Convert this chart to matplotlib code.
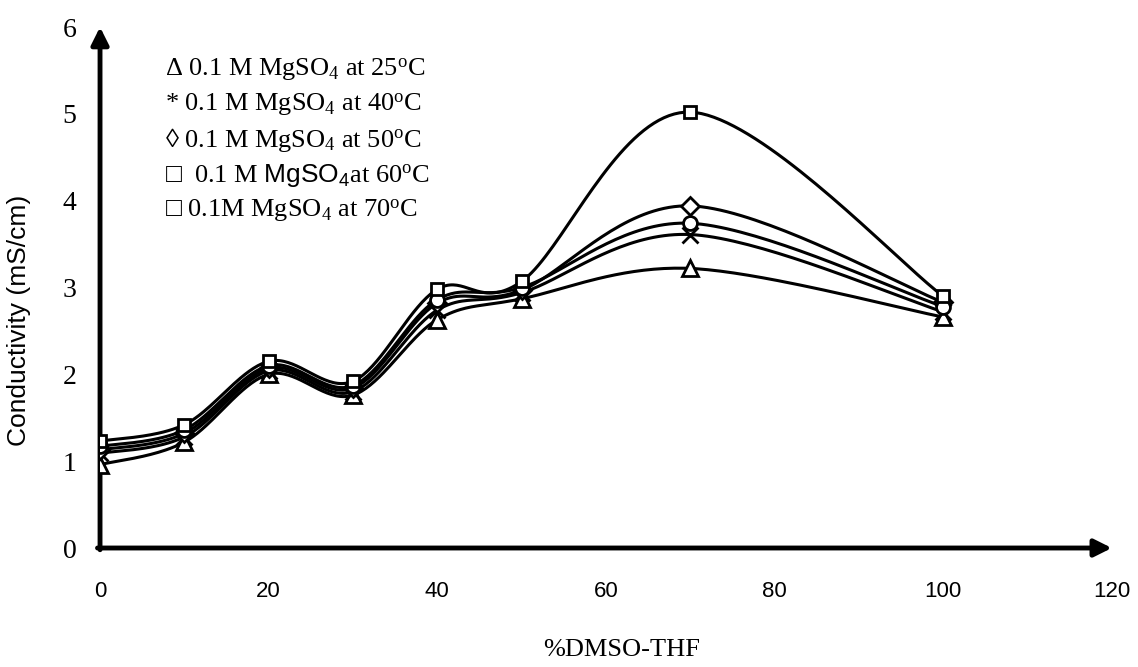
import numpy as np
import matplotlib
matplotlib.use('Agg')
import matplotlib.pyplot as plt

plt.rcParams['mathtext.fontset'] = 'custom'
plt.rcParams['mathtext.rm'] = 'Liberation Serif'
plt.rcParams['mathtext.it'] = 'Liberation Serif:italic'
plt.rcParams['mathtext.sf'] = 'Liberation Sans'

# data
dmso = [0, 10, 20, 30, 40, 50, 70, 100]
cond_25 = [0.96, 1.22, 2.00, 1.76, 2.63, 2.87, 3.22, 2.66]
cond_40 = [1.09, 1.28, 2.04, 1.80, 2.74, 2.94, 3.61, 2.72]
cond_50 = [1.13, 1.32, 2.07, 1.84, 2.82, 2.97, 3.94, 2.83]
cond_60 = [1.17, 1.36, 2.10, 1.87, 2.86, 3.00, 3.74, 2.78]
cond_70 = [1.23, 1.42, 2.15, 1.92, 2.98, 3.07, 5.02, 2.90]

series = [cond_25, cond_40, cond_50, cond_60, cond_70]
markers = ['^', 'x', 'D', 'o', 's']
msizes = [11, 11, 9, 10, 9]

legend_lines = [
    'Δ 0.1 M MgSO$_4$ at 25$^{\\rm o}$C',
    '* 0.1 M MgSO$_4$ at 40$^{\\rm o}$C',
    '◊ 0.1 M MgSO$_4$ at 50$^{\\rm o}$C',
    '□  0.1 M $\\mathsf{MgSO_4}$at 60$^{\\rm o}$C',
    '□ 0.1M MgSO$_4$ at 70$^{\\rm o}$C',
]


def smooth(xs, ys, n=40):
    # Excel-like bezier smoothing, only for drawing the curve between points
    p = np.column_stack([xs, ys]).astype(float)
    out = []
    for i in range(len(p) - 1):
        p0 = p[i - 1] if i > 0 else p[i]
        p3 = p[i + 2] if i + 2 < len(p) else p[i + 1]
        c1 = p[i] + (p[i + 1] - p0) / 6
        c2 = p[i + 1] - (p3 - p[i]) / 6
        t = np.linspace(0, 1, n)[:, None]
        seg = ((1 - t) ** 3 * p[i] + 3 * (1 - t) ** 2 * t * c1
               + 3 * (1 - t) * t ** 2 * c2 + t ** 3 * p[i + 1])
        out.append(seg if i == 0 else seg[1:])
    out = np.vstack(out)
    return out[:, 0], out[:, 1]


fig = plt.figure(figsize=(11.38, 6.67), dpi=100)
ax = fig.add_axes([0.0879, 0.1784, 0.8891, 0.7811])

for k, ys in enumerate(series):
    sx, sy = smooth(dmso, ys)
    ax.plot(sx, sy, color='black', lw=2.2, zorder=2 + k)
for k, ys in enumerate(series):
    ax.plot(dmso, ys, ls='none', marker=markers[k], ms=msizes[k],
            mfc='white', mec='black', mew=2, zorder=10 + k)

ax.set_xlim(0, 120)
ax.set_ylim(0, 6)
for s in ax.spines.values():
    s.set_visible(False)

ax.annotate('', xy=(120, 0), xytext=(-0.3, 0),
            arrowprops=dict(arrowstyle='-|>', lw=3.5, color='black',
                            mutation_scale=26, shrinkA=0, shrinkB=0),
            annotation_clip=False, zorder=1)
ax.annotate('', xy=(0, 6), xytext=(0, -0.02),
            arrowprops=dict(arrowstyle='-|>', lw=3.5, color='black',
                            mutation_scale=26, shrinkA=0, shrinkB=0),
            annotation_clip=False, zorder=1)

ax.set_xticks(range(0, 121, 20))
ax.set_yticks(range(0, 7))
ax.tick_params(length=0)
ax.tick_params(axis='x', pad=24)
ax.tick_params(axis='y', pad=17)
for lab in ax.get_xticklabels():
    lab.set_fontfamily(['Liberation Sans Narrow', 'Liberation Sans'])
    lab.set_fontsize(16)
for lab in ax.get_yticklabels():
    lab.set_fontfamily('Liberation Serif')
    lab.set_fontsize(20)

fig.text(0.546, 0.025, '%DMSO-THF', family='Liberation Serif', fontsize=19,
         ha='center', va='center')
fig.text(0.017, 0.52, 'Conductivity (mS/cm)',
         family=['Liberation Sans Narrow', 'Liberation Sans'],
         fontsize=19, rotation=90, ha='center', va='center')

y0 = 0.895
for i, t in enumerate(legend_lines):
    fig.text(0.145, y0 - i * 0.0525, t, family=['Liberation Serif', 'DejaVu Serif'],
             fontsize=19, ha='left', va='center')

fig.savefig('out.png', dpi=100)
